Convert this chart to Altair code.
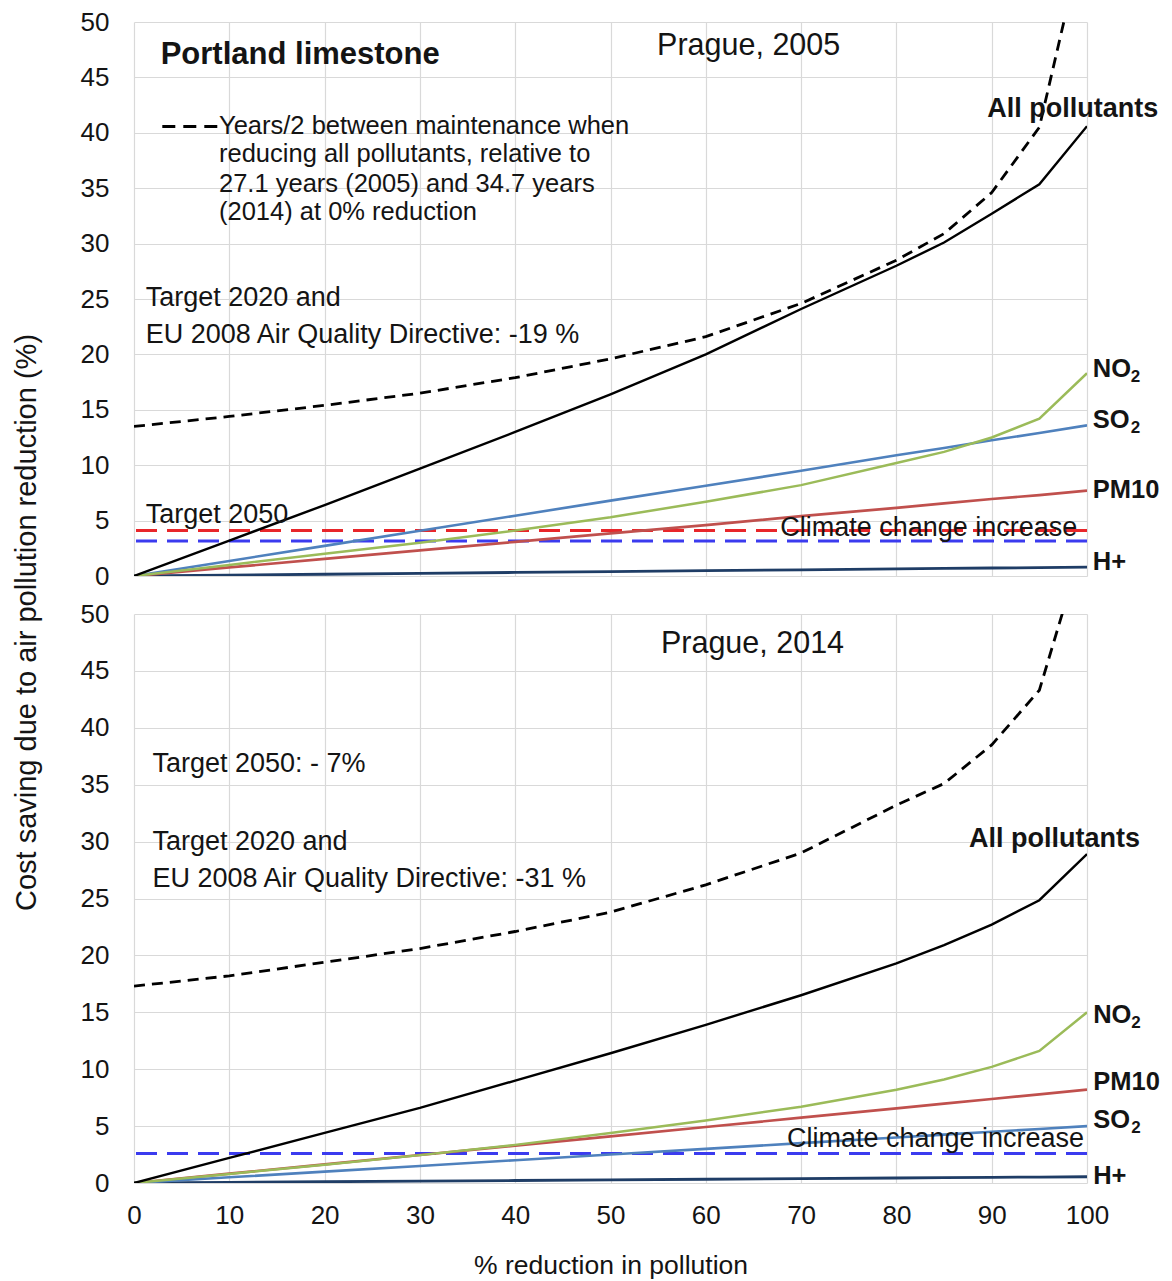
import altair as alt
import pandas as pd

FONT = "Liberation Sans"
INK = "#141414"

# ---- data -----------------------------------------------------------------
x_pct = [0, 10, 20, 30, 40, 50, 60, 70, 80, 85, 90, 95, 100]
x_ticks = [0, 10, 20, 30, 40, 50, 60, 70, 80, 90, 100]
y_ticks = [0, 5, 10, 15, 20, 25, 30, 35, 40, 45, 50]

series_names = ["H+", "PM10", "SO2", "NO2", "All pollutants"]
series_colors = ["#1f3d66", "#c0504d", "#4f81bd", "#9bbb59", "#000000"]
series_widths = [2.8, 2.4, 2.4, 2.4, 2.8]

# Prague, 2005
all_2005 = [0, 3.2, 6.4, 9.7, 13.0, 16.4, 20.0, 24.1, 28.0, 30.1, 32.7, 35.35, 40.6]
no2_2005 = [0, 1.0, 2.0, 3.0, 4.1, 5.3, 6.7, 8.2, 10.2, 11.2, 12.5, 14.2, 18.3]
so2_2005 = [0, 1.36, 2.72, 4.08, 5.44, 6.8, 8.15, 9.5, 10.9, 11.55, 12.25, 12.9, 13.6]
pm10_2005 = [0, 0.77, 1.54, 2.31, 3.08, 3.85, 4.6, 5.4, 6.15, 6.55, 6.95, 7.3, 7.7]
hplus_2005 = [0, 0.08, 0.16, 0.24, 0.32, 0.4, 0.48, 0.56, 0.64, 0.68, 0.72, 0.76, 0.8]
years_2005 = [13.5, 14.4, 15.4, 16.5, 17.9, 19.6, 21.6, 24.6, 28.5, 30.9, 34.6, 40.5, 59.0]
climate_2005 = [4.1, 3.15]
climate_colors_2005 = ["#e8262a", "#3b3bef"]

# Prague, 2014
all_2014 = [0, 2.2, 4.4, 6.6, 9.0, 11.4, 13.9, 16.5, 19.3, 20.9, 22.7, 24.85, 28.9]
no2_2014 = [0, 0.8, 1.6, 2.45, 3.35, 4.4, 5.5, 6.7, 8.2, 9.1, 10.2, 11.6, 15.0]
so2_2014 = [0, 0.5, 1.0, 1.5, 2.0, 2.5, 3.0, 3.5, 4.0, 4.25, 4.5, 4.75, 5.0]
pm10_2014 = [0, 0.82, 1.64, 2.46, 3.28, 4.1, 4.92, 5.74, 6.56, 6.97, 7.38, 7.79, 8.2]
hplus_2014 = [0, 0.055, 0.11, 0.165, 0.22, 0.275, 0.33, 0.385, 0.44, 0.47, 0.5, 0.52, 0.55]
years_2014 = [17.3, 18.2, 19.4, 20.6, 22.1, 23.8, 26.2, 29.0, 33.2, 35.1, 38.5, 43.3, 57.3]
climate_2014 = [2.6]
climate_colors_2014 = ["#3b3bef"]

# annotations: (x %, y value at text baseline, text)
top_bold = [(2.8, 46.25, "Portland limestone")]
top_title = [(64.5, 47.0, "Prague, 2005")]
top_legend = [
    (8.92, 39.93, "Years/2 between maintenance when"),
    (8.92, 37.36, "reducing all pollutants, relative to"),
    (8.92, 34.66, "27.1 years (2005) and 34.7 years"),
    (8.92, 32.1, "(2014) at 0% reduction"),
]
top_notes = [
    (1.22, 24.34, "Target 2020 and"),
    (1.22, 21.03, "EU 2008 Air Quality Directive: -19 %"),
    (1.22, 4.78, "Target 2050"),
]
top_climate = [(83.4, 3.6, "Climate change increase")]
top_all = [(98.5, 41.45, "All pollutants")]
top_series = [
    (100.6, 17.97, "NO"),
    (100.6, 13.33, "SO"),
    (100.6, 7.04, "PM10"),
    (100.6, 0.54, "H+"),
]
top_subs = [(100.6, 17.97, "2"), (100.6, 13.33, "2")]
legend_dash = [(2.97, 8.74, 40.57)]

bot_title = [(64.9, 46.55, "Prague, 2014")]
bot_notes = [
    (1.93, 36.14, "Target 2050: - 7%"),
    (1.93, 29.26, "Target 2020 and"),
    (1.93, 26.04, "EU 2008 Air Quality Directive: -31 %"),
]
bot_climate = [(84.1, 3.18, "Climate change increase")]
bot_all = [(96.6, 29.56, "All pollutants")]
bot_series = [
    (100.65, 14.06, "NO"),
    (100.65, 8.18, "PM10"),
    (100.65, 4.8, "SO"),
    (100.65, -0.06, "H+"),
]
bot_subs = [(100.65, 14.06, "2"), (100.65, 4.8, "2")]

PLOT_W = 953
TOP_H = 554
BOT_H = 569


def series_frame(values):
    rows = []
    for name, ys in zip(series_names, values):
        for xv, yv in zip(x_pct, ys):
            rows.append({"x": xv, "y": yv, "series": name})
    return pd.DataFrame(rows)


def text_layer(rows, size, weight="normal", align="left", dx=0, dy=0):
    df = pd.DataFrame(rows, columns=["x", "y", "label"])
    return alt.Chart(df).mark_text(
        font=FONT, fontSize=size, fontWeight=weight, align=align,
        baseline="alphabetic", color=INK, dx=dx, dy=dy,
    ).encode(x="x:Q", y="y:Q", text="label:N")


def panel(values, years, levels, level_colors, texts, height, bottom):
    x_scale = alt.Scale(domain=[0, 100], nice=False)
    y_scale = alt.Scale(domain=[0, 50], nice=False)
    if bottom:
        x_axis = alt.Axis(values=x_ticks, title="% reduction in pollution",
                          titleFontSize=26.5, titleFontWeight="normal",
                          titleFont=FONT, titleColor=INK, labelPadding=19,
                          labelFlush=False, titlePadding=24)
        y_axis = alt.Axis(values=y_ticks, title=None)
    else:
        x_axis = alt.Axis(values=x_ticks, labels=False, title=None)
        y_axis = alt.Axis(values=y_ticks,
                          title="Cost saving due to air pollution reduction (%)",
                          titleFontSize=29, titleFontWeight="normal",
                          titleFont=FONT, titleColor=INK,
                          titleX=-108, titleY=600, titleAngle=270,
                          titleAlign="center", titleBaseline="middle")

    lines = alt.Chart(series_frame(values)).mark_line(clip=True).encode(
        x=alt.X("x:Q", scale=x_scale, axis=x_axis),
        y=alt.Y("y:Q", scale=y_scale, axis=y_axis),
        color=alt.Color("series:N", legend=None,
                        scale=alt.Scale(domain=series_names, range=series_colors)),
        size=alt.Size("series:N", legend=None,
                      scale=alt.Scale(domain=series_names, range=series_widths)),
        order=alt.Order("x:Q"),
    )

    years_df = pd.DataFrame({"x": x_pct, "y": years})
    years_line = alt.Chart(years_df).mark_line(
        clip=True, color="#000000", strokeWidth=2.8, strokeDash=[11, 7]
    ).encode(x="x:Q", y="y:Q")

    level_df = pd.DataFrame({"y": levels, "c": level_colors})
    level_rules = alt.Chart(level_df).mark_rule(
        strokeWidth=3, strokeDash=[21, 10]
    ).encode(y="y:Q", color=alt.Color("c:N", scale=None))

    layers = [level_rules, lines, years_line] + texts
    return alt.layer(*layers).properties(width=PLOT_W, height=height)


dash_df = pd.DataFrame(legend_dash, columns=["x", "x2", "y"])
legend_marker = alt.Chart(dash_df).mark_rule(
    color="#000000", strokeWidth=2.8, strokeDash=[13, 8]
).encode(x="x:Q", x2="x2", y="y:Q")

top_texts = [
    text_layer(top_bold, 31, "bold"),
    text_layer(top_title, 30.5, align="center"),
    legend_marker,
    text_layer(top_legend, 25.5),
    text_layer(top_notes, 27),
    text_layer(top_climate, 27, align="center"),
    text_layer(top_all, 27, "bold", align="center"),
    text_layer(top_series, 25.5, "bold"),
    text_layer(top_subs, 17, "bold", dx=38, dy=5),
]
bot_texts = [
    text_layer(bot_title, 30.5, align="center"),
    text_layer(bot_notes, 27),
    text_layer(bot_climate, 27, align="center"),
    text_layer(bot_all, 27, "bold", align="center"),
    text_layer(bot_series, 25.5, "bold"),
    text_layer(bot_subs, 17, "bold", dx=38, dy=5),
]

top = panel([hplus_2005, pm10_2005, so2_2005, no2_2005, all_2005], years_2005,
            climate_2005, climate_colors_2005, top_texts, TOP_H, False)
bottom = panel([hplus_2014, pm10_2014, so2_2014, no2_2014, all_2014], years_2014,
               climate_2014, climate_colors_2014, bot_texts, BOT_H, True)

chart = alt.vconcat(top, bottom, spacing=38, bounds="flush").properties(
    padding={"left": 12, "top": 9, "right": 5, "bottom": 5},
    background="white",
).configure_view(stroke=None).configure_axis(
    grid=True, gridColor="#d9d9d9", gridWidth=1.2,
    domain=False, ticks=False, tickSize=0,
    labelFont=FONT, labelFontSize=26, labelColor=INK, labelPadding=25,
)

chart.save("out.html", embed_options={"renderer": "svg", "actions": False})
